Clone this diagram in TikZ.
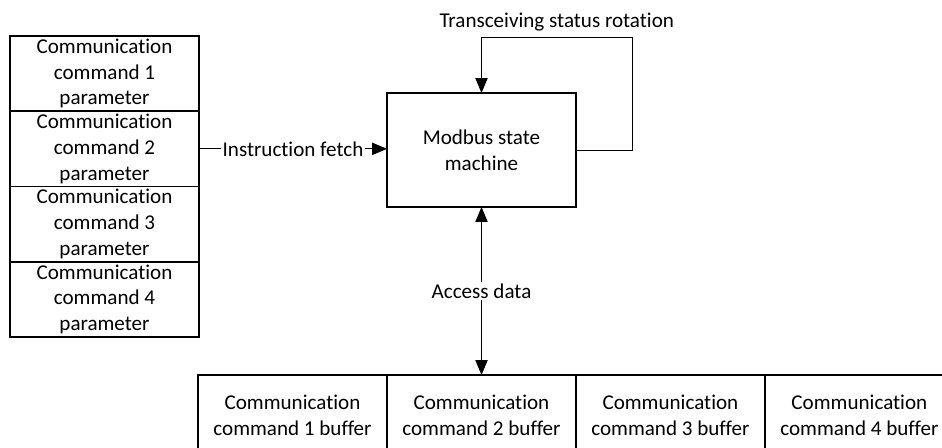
\documentclass[tikz,border=0pt]{standalone}
\usepackage{fontspec}
\setmainfont[Ligatures=NoCommon]{Carlito}
\usetikzlibrary{arrows.meta,positioning}

\begin{document}
\begin{tikzpicture}[x=0.02cm,y=-0.02cm,node distance=0pt,
box/.style={draw,line width=0.9pt,outer sep=0pt,inner sep=0pt,align=center,minimum width=3.78cm,font=\fontsize{12}{14.6}\selectfont},
param/.style={box,minimum height=1.505cm},
buf/.style={box,minimum height=1.6cm},
fsm/.style={box,minimum height=2.28cm},
arr/.style={-{Triangle[length=8.5pt,width=7pt]},line width=0.5pt},
lbl/.style={fill=white,inner sep=1pt,font=\fontsize{12}{14.6}\selectfont}]
\useasboundingbox (0,0) rectangle (942,447);
% parameter stack
\node[param,anchor=north west](par1) at (10,36){Communication\\command 1\\parameter};
\node[param,below=of par1](par2){Communication\\command 2\\parameter};
\node[param,below=of par2](par3){Communication\\command 3\\parameter};
\node[param,below=of par3](par4){Communication\\command 4\\parameter};
% state machine
\node[fsm](modbus) at (481.5,150){Modbus state\\machine};
% buffers
\node[buf,anchor=north west](buf1) at (198,375){Communication\\command 1 buffer};
\node[buf,right=of buf1](buf2){Communication\\command 2 buffer};
\node[buf,right=of buf2](buf3){Communication\\command 3 buffer};
\node[buf,right=of buf3](buf4){Communication\\command 4 buffer};
\coordinate (loop) at (632,37);
\draw[arr](par2.east)--node[lbl]{Instruction fetch}(par2.east-|modbus.west);
\draw[arr](modbus.east)-|(loop)-|node[pos=0.25,above,font=\fontsize{12}{14.6}\selectfont]{Transceiving status rotation}(modbus.north);
\draw[arr,{Triangle[length=8.5pt,width=7pt]}-{Triangle[length=8.5pt,width=7pt]}](modbus.south)--node[lbl]{Access data}(modbus.south|-buf2.north);
\end{tikzpicture}
\end{document}
